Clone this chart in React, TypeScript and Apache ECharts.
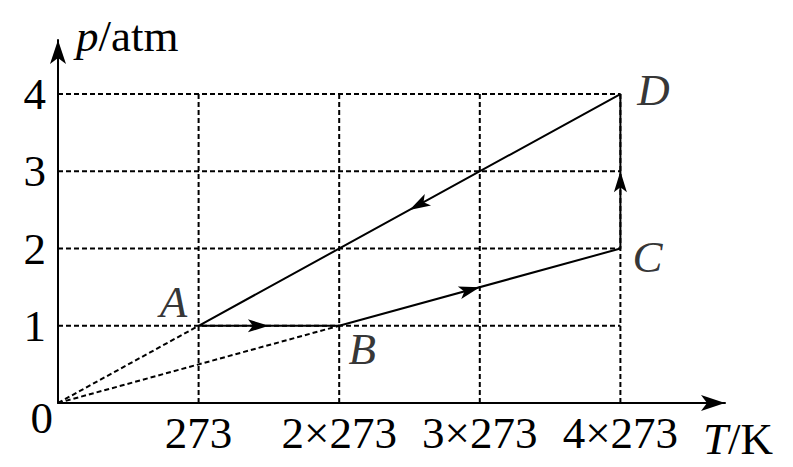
import React, { useEffect, useRef } from 'react';
import * as echarts from 'echarts';

// ---- data ----
const xTickLabels = ['0', '273', '2×273', '3×273', '4×273'];
const yTickLabels = ['0', '1', '2', '3', '4'];
const gridT = [1, 2, 3, 4];
const gridP = [1, 2, 3, 4];
const cycleNames = ['A', 'B', 'C', 'D'];
const cycleT = [1, 2, 4, 4];
const cycleP = [1, 1, 2, 4];
const arrowFrac = [0.5, 0.5, 0.5, 0.5];
const originLinesTo = ['A', 'B'];

// ---- style ----
const FONT = '"Liberation Serif", "Times New Roman", serif';
const FS = 45;
const labelOffsets = [
  [-25, -24],
  [23, 23],
  [27, 8],
  [33, -4],
];

export default function App() {
  const ref = useRef<HTMLDivElement>(null);
  useEffect(() => {
    if (!ref.current) return;
    const chart = echarts.init(ref.current, undefined, { renderer: 'svg' });
    const maxT = Math.max(...gridT);
    const maxP = Math.max(...gridP);
    const dashed = { color: '#000', width: 2, type: [5, 3] as number[] };

    const gridSeries: any[] = [];
    gridP.forEach((p) => {
      gridSeries.push({
        type: 'line', data: [[0, p], [maxT, p]], symbol: 'none', silent: true,
        lineStyle: dashed, z: 1,
      });
    });
    gridT.forEach((t) => {
      gridSeries.push({
        type: 'line', data: [[t, 0], [t, maxP]], symbol: 'none', silent: true,
        lineStyle: dashed, z: 1,
      });
    });
    originLinesTo.forEach((n) => {
      const i = cycleNames.indexOf(n);
      gridSeries.push({
        type: 'line', data: [[0, 0], [cycleT[i], cycleP[i]]], symbol: 'none', silent: true,
        lineStyle: dashed, z: 1,
      });
    });

    const cycleData = cycleT.map((t, i) => [t, cycleP[i]]);
    const closed = [...cycleData, cycleData[0]];

    const legs = cycleT.map((t, i) => {
      const j = (i + 1) % cycleT.length;
      return [t, cycleP[i], cycleT[j], cycleP[j], arrowFrac[i]];
    });

    const italicRich = { i: { fontStyle: 'italic', fontFamily: FONT, fontSize: FS, color: '#000' } };

    const option: any = {
      animation: false,
      grid: { left: 58, top: 40, right: 68, bottom: 64 },
      xAxis: {
        type: 'value', min: 0, max: 4.744, interval: 1,
        axisLine: {
          show: true, onZero: false,
          lineStyle: { color: '#000', width: 2 },
          symbol: ['none', 'arrow'], symbolSize: [12, 24],
        },
        axisTick: { show: false },
        splitLine: { show: false },
        axisLabel: {
          margin: 7, color: '#000', fontFamily: FONT, fontSize: FS,
          formatter: (v: number) => (v > 0 && Number.isInteger(v) ? xTickLabels[v] : ''),
        },
        name: '{i|T}/K',
        nameLocation: 'end',
        nameGap: -22,
        nameTextStyle: {
          align: 'left', verticalAlign: 'top', padding: [13, 0, 0, 0],
          color: '#000', fontFamily: FONT, fontSize: FS,
          rich: italicRich,
        },
      },
      yAxis: {
        type: 'value', min: 0, max: 4.70, interval: 1,
        axisLine: {
          show: true, onZero: false,
          lineStyle: { color: '#000', width: 2 },
          symbol: ['none', 'arrow'], symbolSize: [12, 24],
        },
        axisTick: { show: false },
        splitLine: { show: false },
        axisLabel: {
          margin: 5, color: '#000', fontFamily: FONT, fontSize: FS,
          formatter: (v: number) =>
            Number.isInteger(v) ? (v === 0 ? '{z|0}' : '{n|' + yTickLabels[v] + '}') : '',
          rich: {
            z: { padding: [30, 0, 0, 0], fontFamily: FONT, fontSize: FS, color: '#000' },
            n: { padding: [0, 7, 0, 0], fontFamily: FONT, fontSize: FS, color: '#000' },
          },
        },
        name: '{i|p}/atm',
        nameLocation: 'end',
        nameGap: 4,
        nameTextStyle: {
          align: 'left', verticalAlign: 'middle', padding: [0, 0, 0, 18],
          color: '#000', fontFamily: FONT, fontSize: FS,
          rich: italicRich,
        },
      },
      series: [
        ...gridSeries,
        {
          type: 'line', data: closed, symbol: 'none', silent: true, z: 3,
          lineStyle: { color: '#000', width: 2 },
        },
        {
          type: 'custom', z: 4, silent: true,
          data: legs,
          encode: { x: [0, 2], y: [1, 3] },
          renderItem: (params: any, api: any) => {
            const s = api.coord([api.value(0), api.value(1)]);
            const e = api.coord([api.value(2), api.value(3)]);
            const f = api.value(4);
            const tip = [s[0] + (e[0] - s[0]) * f, s[1] + (e[1] - s[1]) * f];
            const dx = e[0] - s[0];
            const dy = e[1] - s[1];
            const len = Math.sqrt(dx * dx + dy * dy);
            const ux = dx / len, uy = dy / len;
            const nx = -uy, ny = ux;
            const L = 21, W = 6.5, notch = 16;
            const points = [
              tip,
              [tip[0] - L * ux + W * nx, tip[1] - L * uy + W * ny],
              [tip[0] - notch * ux, tip[1] - notch * uy],
              [tip[0] - L * ux - W * nx, tip[1] - L * uy - W * ny],
            ];
            return { type: 'polygon', shape: { points }, style: { fill: '#000' } };
          },
        },
        {
          type: 'scatter', z: 5, silent: true,
          symbolSize: 1,
          itemStyle: { color: 'rgba(0,0,0,0)' },
          data: cycleT.map((t, i) => ({
            value: [t, cycleP[i]],
            label: {
              show: true, formatter: cycleNames[i], position: 'inside',
              offset: labelOffsets[i],
              color: '#000', fontFamily: FONT, fontSize: FS, fontStyle: 'italic',
              align: 'center', verticalAlign: 'middle',
            },
          })),
        },
      ],
    };
    chart.setOption(option);
    return () => chart.dispose();
  }, []);
  return <div ref={ref} style={{ width: 793, height: 467, position: 'absolute', left: 0, top: 0, background: '#fff' }} />;
}
